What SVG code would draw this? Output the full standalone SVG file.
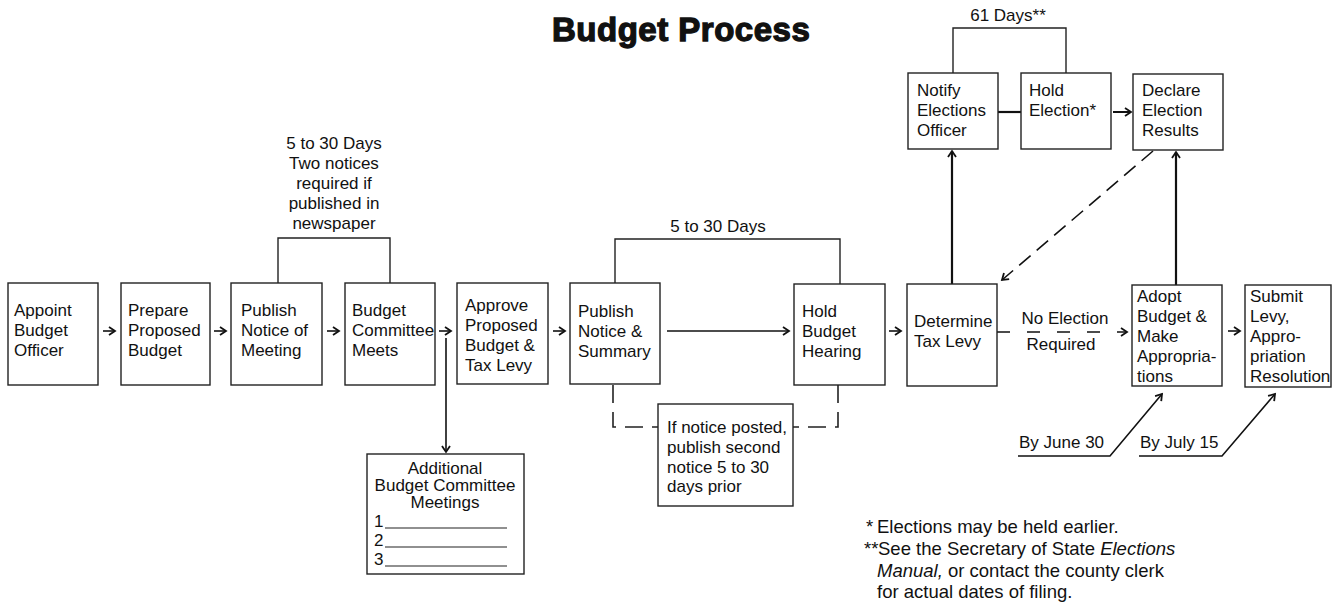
<svg xmlns="http://www.w3.org/2000/svg" width="1334" height="603" viewBox="0 0 1334 603">
<style>
text{font-family:"Liberation Sans",Arial,sans-serif;font-size:17px;fill:#111}
.box{fill:#fff;stroke:#222;stroke-width:1.4}
.ln{fill:none;stroke:#222;stroke-width:1.4}
.ar{fill:none;stroke:#111;stroke-width:1.6}
.thick{fill:none;stroke:#111;stroke-width:2.2}
.dash{fill:none;stroke:#222;stroke-width:1.6;stroke-dasharray:18 9}
.c{text-anchor:middle}
.fn{font-size:18.5px}
</style>
<defs>
<marker id="ah" markerUnits="userSpaceOnUse" markerWidth="12" markerHeight="12" refX="7" refY="5" orient="auto">
<path d="M1,1 L7,5 L1,9" fill="none" stroke="#111" stroke-width="1.8" stroke-dasharray="none"/>
</marker>
</defs>
<rect width="1334" height="603" fill="#fff"/>
<text x="552" y="41" style="font-size:33px;font-weight:bold;letter-spacing:0.5px;stroke:#111;stroke-width:1.3">Budget Process</text>

<g id="connectors">
<path class="ln" d="M278,283 V238 H390 V283"/>
<path class="ln" d="M615,283 V239 H840 V284"/>
<path class="ln" d="M953,73 V28 H1066 V73"/>
<path class="dash" d="M613,385 V427 H658"/>
<path class="dash" d="M838,385 V427 H793"/>
<line class="ar" x1="103" y1="331" x2="115" y2="331" marker-end="url(#ah)"/>
<line class="ar" x1="214" y1="331" x2="226" y2="331" marker-end="url(#ah)"/>
<line class="ar" x1="327" y1="331" x2="339" y2="331" marker-end="url(#ah)"/>
<line class="ar" x1="439" y1="331" x2="451" y2="331" marker-end="url(#ah)"/>
<line class="ar" x1="553" y1="331" x2="565" y2="331" marker-end="url(#ah)"/>
<line class="ar" x1="667" y1="331" x2="789" y2="331" marker-end="url(#ah)"/>
<line class="ar" x1="889" y1="331" x2="901" y2="331" marker-end="url(#ah)"/>
<line class="ar" x1="1228" y1="331" x2="1240" y2="331" marker-end="url(#ah)"/>
<line class="ar" x1="997" y1="332" x2="1127" y2="332" style="stroke-dasharray:13 17" marker-end="url(#ah)"/>
<line class="ar" x1="446" y1="338" x2="446" y2="452" marker-end="url(#ah)"/>
<line class="thick" x1="998" y1="112" x2="1021" y2="112"/>
<line class="ar" x1="1113" y1="112" x2="1131" y2="112" style="stroke-width:2" marker-end="url(#ah)"/>
<line class="thick" x1="952" y1="284" x2="952" y2="151" marker-end="url(#ah)"/>
<line class="thick" x1="1176" y1="285" x2="1176" y2="152" marker-end="url(#ah)"/>
<line class="ar" x1="1153" y1="151" x2="1002" y2="280" style="stroke-dasharray:15 8" marker-end="url(#ah)"/>
<polyline class="ar" points="1018,456 1110,456 1162,394" marker-end="url(#ah)"/>
<polyline class="ar" points="1139,456 1222,456 1275,394" marker-end="url(#ah)"/>
</g>

<g id="n1"><rect class="box" x="8" y="283" width="90" height="102"/>
<text x="14" y="316">Appoint</text><text x="14" y="336">Budget</text><text x="14" y="356">Officer</text></g>
<g id="n2"><rect class="box" x="121" y="283" width="89" height="102"/>
<text x="128" y="316">Prepare</text><text x="128" y="336">Proposed</text><text x="128" y="356">Budget</text></g>
<g id="n3"><rect class="box" x="231" y="283" width="91" height="102"/>
<text x="241" y="316">Publish</text><text x="241" y="336">Notice of</text><text x="241" y="356">Meeting</text></g>
<g id="n4"><rect class="box" x="345" y="283" width="90" height="102"/>
<text x="352" y="316">Budget</text><text x="352" y="336">Committee</text><text x="352" y="356">Meets</text></g>
<g id="n5"><rect class="box" x="457" y="283" width="91" height="101"/>
<text x="465" y="311">Approve</text><text x="465" y="331">Proposed</text><text x="465" y="351">Budget &amp;</text><text x="465" y="371">Tax Levy</text></g>
<g id="n6"><rect class="box" x="570" y="283" width="90" height="101"/>
<text x="578" y="317">Publish</text><text x="578" y="337">Notice &amp;</text><text x="578" y="357">Summary</text></g>
<g id="n7"><rect class="box" x="794" y="284" width="91" height="101"/>
<text x="802" y="317">Hold</text><text x="802" y="337">Budget</text><text x="802" y="357">Hearing</text></g>
<g id="n8"><rect class="box" x="907" y="284" width="90" height="102"/>
<text x="914" y="327">Determine</text><text x="914" y="347">Tax Levy</text></g>
<g id="n9"><rect class="box" x="1132" y="285" width="90" height="101"/>
<text x="1137" y="302">Adopt</text><text x="1137" y="322">Budget &amp;</text><text x="1137" y="342">Make</text><text x="1137" y="362">Appropria-</text><text x="1137" y="382">tions</text></g>
<g id="n10"><rect class="box" x="1245" y="285" width="86" height="102"/>
<text x="1250" y="302">Submit</text><text x="1250" y="322">Levy,</text><text x="1250" y="342">Appro-</text><text x="1250" y="362">priation</text><text x="1250" y="382">Resolution</text></g>
<g id="n11"><rect class="box" x="908" y="73" width="90" height="76"/>
<text x="917" y="96">Notify</text><text x="917" y="116">Elections</text><text x="917" y="136">Officer</text></g>
<g id="n12"><rect class="box" x="1021" y="73" width="90" height="76"/>
<text x="1029" y="96">Hold</text><text x="1029" y="116">Election*</text></g>
<g id="n13"><rect class="box" x="1133" y="74" width="90" height="76"/>
<text x="1142" y="96">Declare</text><text x="1142" y="116">Election</text><text x="1142" y="136">Results</text></g>
<g id="n14"><rect class="box" x="367" y="454" width="157" height="120"/>
<text class="c" x="445" y="474">Additional</text><text class="c" x="445" y="491">Budget Committee</text><text class="c" x="445" y="508">Meetings</text>
<text x="374" y="527">1</text><text x="374" y="546">2</text><text x="374" y="565">3</text>
<path class="ln" d="M385,528 H507 M385,547 H507 M385,566 H507" style="stroke-width:1.2"/></g>
<g id="n15"><rect class="box" x="658" y="404" width="135" height="102"/>
<text x="667" y="433">If notice posted,</text><text x="667" y="453">publish second</text><text x="667" y="473">notice 5 to 30</text><text x="667" y="492">days prior</text></g>

<g id="labels">
<text class="c" x="334" y="149">5 to 30 Days</text>
<text class="c" x="334" y="169">Two notices</text>
<text class="c" x="334" y="189">required if</text>
<text class="c" x="334" y="209">published in</text>
<text class="c" x="334" y="229">newspaper</text>
<text class="c" x="718" y="232">5 to 30 Days</text>
<text class="c" x="1008" y="21">61 Days**</text>
<text class="c" x="1065" y="324">No Election</text>
<text class="c" x="1061" y="350">Required</text>
<text x="1019" y="448">By June 30</text>
<text x="1140" y="448">By July 15</text>
</g>
<g id="footnotes">
<text class="fn" x="866" y="533">*</text>
<text class="fn" x="877" y="533">Elections may be held earlier.</text>
<text class="fn" x="864" y="555">**</text>
<text class="fn" x="878" y="555">See the Secretary of State <tspan font-style="italic">Elections</tspan></text>
<text class="fn" x="877" y="577"><tspan font-style="italic">Manual,</tspan> or contact the county clerk</text>
<text class="fn" x="877" y="598">for actual dates of filing.</text>
</g>
</svg>
